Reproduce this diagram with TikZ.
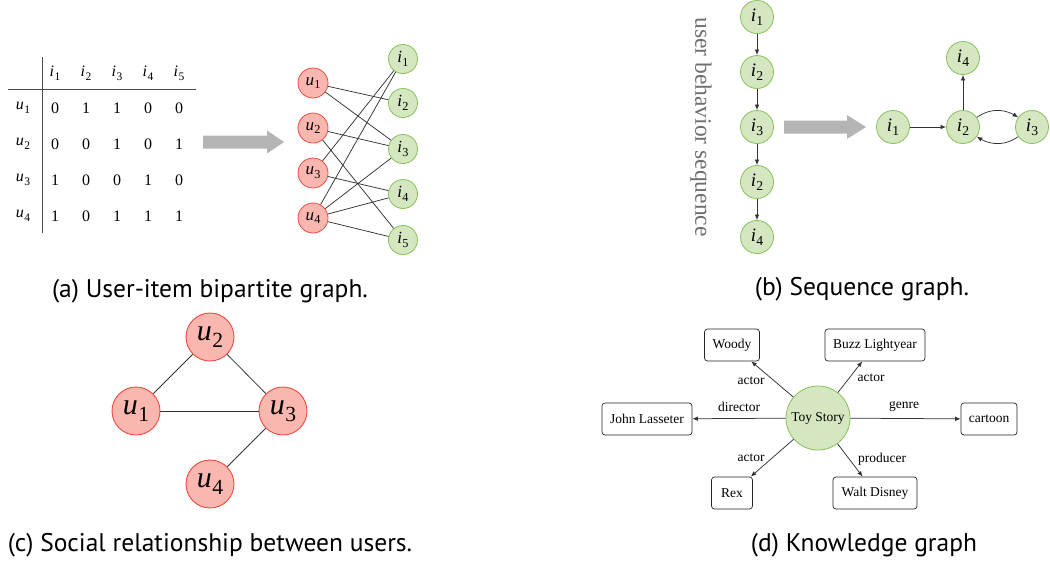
\documentclass[tikz,border=0pt]{standalone}
\usepackage{fontspec}
\setmainfont{Liberation Serif}
\newfontfamily\capfont{PT Sans}
\usetikzlibrary{arrows.meta,bending}

\definecolor{ufill}{HTML}{F9B7AF}
\definecolor{uline}{HTML}{F04A42}
\definecolor{ifill}{HTML}{D4E7C0}
\definecolor{iline}{HTML}{86C25A}
\definecolor{blockgray}{HTML}{B4B4B4}
\definecolor{seqgray}{HTML}{6E6E6E}

\newcommand{\fs}[1]{\fontsize{#1}{#1}\selectfont}
% italic symbol with an upright subscript index
\newcommand{\ix}[2]{{\itshape #1}\kern0.02em\raisebox{-0.22em}{\scalebox{0.72}{#2}}}

\tikzset{
  unode/.style={circle, draw=uline, fill=ufill, line width=0.8pt, minimum size=30pt, inner sep=0pt, font=\fs{17}},
  inode/.style={circle, draw=iline, fill=ifill, line width=0.8pt, minimum size=29pt, inner sep=0pt, font=\fs{17}},
  seqnode/.style={circle, draw=iline, fill=ifill, line width=0.8pt, minimum size=33pt, inner sep=0pt, font=\fs{19}},
  socnode/.style={circle, draw=uline, fill=ufill, line width=0.9pt, minimum size=48pt, inner sep=0pt, font=\fs{30}},
  kgbox/.style={draw=black!85, rounded corners=3pt, fill=white, line width=0.7pt, minimum height=32pt, inner sep=0pt, font=\fs{13.5}},
  lbl/.style={inner sep=0pt, font=\fs{13.5}},
  cell/.style={inner sep=0pt, font=\fs{16}},
  caption/.style={inner sep=0pt, font=\capfont\fs{25.5}},
  link/.style={draw=black!80, line width=0.75pt},
  arr/.style={link, -{Latex[length=5.5pt,width=4.5pt]}}
}

\begin{document}
\begin{tikzpicture}[x=1pt,y=-1pt]
\useasboundingbox (0,0) rectangle (1050,563);

% ---------- (a) interaction matrix ----------
\draw[black!70, line width=0.8pt] (42,57) -- (42,233);
\draw[black!70, line width=0.8pt] (8,89) -- (196,89);
\foreach \c/\x in {1/55,2/86,3/117,4/148,5/179}
  \node[cell] (h\c) at (\x,73) {\ix{i}{\c}};
\foreach \r/\y in {1/108,2/144,3/180,4/216}
  \node[cell] (r\r) at (23,\y) {\ix{u}{\r}};
\foreach \r/\y/\vals in {1/108/{0,1,1,0,0},2/144/{0,0,1,0,1},3/180/{1,0,0,1,0},4/216/{1,0,1,1,1}}{
  \foreach \v [count=\c] in \vals
    \node[cell] (m\r\c) at ({24+31*\c},\y) {\v};
}

% block arrow: matrix -> bipartite graph
\fill[blockgray] (203,135.5) -- (267,135.5) -- (267,130.5) -- (284,142)
  -- (267,153.5) -- (267,148.5) -- (203,148.5) -- cycle;

% ---------- (a) bipartite graph ----------
\node[unode] (u1) at (313,83)  {\ix{u}{1}};
\node[unode] (u2) at (313,128) {\ix{u}{2}};
\node[unode] (u3) at (313,173) {\ix{u}{3}};
\node[unode] (u4) at (313,218) {\ix{u}{4}};
\node[inode] (i1) at (403,59)  {\ix{i}{1}};
\node[inode] (i2) at (403,103) {\ix{i}{2}};
\node[inode] (i3) at (403,149) {\ix{i}{3}};
\node[inode] (i4) at (403,194) {\ix{i}{4}};
\node[inode] (i5) at (403,240) {\ix{i}{5}};
\foreach \a/\b in {u1/i2,u1/i3,u2/i3,u2/i5,u3/i1,u3/i4,u4/i1,u4/i3,u4/i4,u4/i5}
  \draw[link] (\a) -- (\b);

\node[caption] (capa) at (210,291) {(a) User-item bipartite graph.};

% ---------- (b) behaviour sequence ----------
\node[inner sep=0pt, font=\fs{23.5}, text=seqgray, rotate=-90] (seqlabel) at (701,127) {user behavior sequence};
\node[seqnode] (s1) at (757,17)  {\ix{i}{1}};
\node[seqnode] (s2) at (757,72)  {\ix{i}{2}};
\node[seqnode] (s3) at (757,127) {\ix{i}{3}};
\node[seqnode] (s4) at (757,182) {\ix{i}{2}};
\node[seqnode] (s5) at (757,237) {\ix{i}{4}};
\foreach \a/\b in {s1/s2,s2/s3,s3/s4,s4/s5}
  \draw[arr] (\a) -- (\b);

% block arrow: sequence -> graph
\fill[blockgray] (784,120.5) -- (847,120.5) -- (847,115) -- (866,127)
  -- (847,139) -- (847,133.5) -- (784,133.5) -- cycle;

% ---------- (b) session graph ----------
\node[seqnode] (g1) at (893,127) {\ix{i}{1}};
\node[seqnode] (g2) at (963,127) {\ix{i}{2}};
\node[seqnode] (g3) at (1032,127) {\ix{i}{3}};
\node[seqnode] (g4) at (963,58)  {\ix{i}{4}};
\draw[arr] (g1) -- (g2);
\draw[arr] (g2) -- (g4);
\draw[arr] (g2) to[bend left=35] (g3);
\draw[arr] (g3) to[bend left=35] (g2);

\node[caption] (capb) at (862,289) {(b) Sequence graph.};

% ---------- (c) social network ----------
\node[socnode] (v1) at (136,411) {\ix{u}{1}};
\node[socnode] (v2) at (210,337) {\ix{u}{2}};
\node[socnode] (v3) at (283,411) {\ix{u}{3}};
\node[socnode] (v4) at (210,484) {\ix{u}{4}};
\draw[link] (v1) -- (v2);
\draw[link] (v2) -- (v3);
\draw[link] (v1) -- (v3);
\draw[link] (v3) -- (v4);

\node[caption] (capc) at (210,545) {(c) Social relationship between users.};

% ---------- (d) knowledge graph ----------
\node[circle, draw=iline, fill=ifill, line width=0.8pt, minimum size=64pt, inner sep=0pt, font=\fs{13.5}] (toy) at (818,418) {Toy Story};
\node[kgbox, minimum width=55pt]  (woody) at (732,345) {Woody};
\node[kgbox, minimum width=100pt] (buzz)  at (875,345) {Buzz Lightyear};
\node[kgbox, minimum width=90pt]  (john)  at (647,419) {John Lasseter};
\node[kgbox, minimum width=56pt]  (cart)  at (989,419) {cartoon};
\node[kgbox, minimum width=41pt]  (rex)   at (732,493) {Rex};
\node[kgbox, minimum width=84pt]  (walt)  at (875,493) {Walt Disney};
\draw[arr] (toy) -- (woody);
\draw[arr] (toy) -- (buzz);
\draw[arr] (toy) -- (john);
\draw[arr] (toy) -- (cart);
\draw[arr] (toy) -- (rex);
\draw[arr] (toy) -- (walt);
\node[lbl] (l1) at (751,381) {actor};
\node[lbl] (l2) at (871,378) {actor};
\node[lbl] (l3) at (739,407) {director};
\node[lbl] (l4) at (904,406) {genre};
\node[lbl] (l5) at (751,458) {actor};
\node[lbl] (l6) at (882,459) {producer};

\node[caption] (capd) at (864,545) {(d) Knowledge graph};
\end{tikzpicture}
\end{document}
